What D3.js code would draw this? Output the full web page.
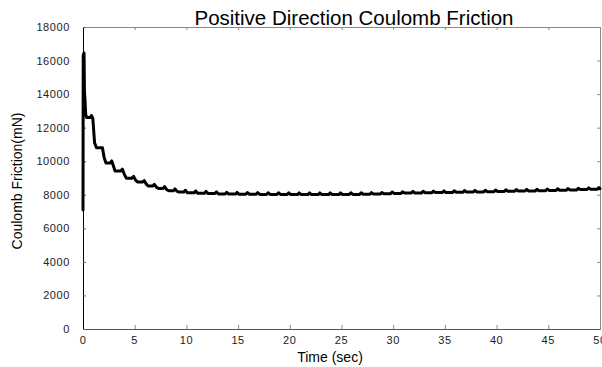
<!DOCTYPE html>
<html>
<head>
<meta charset="utf-8">
<script src="https://cdn.jsdelivr.net/npm/d3@7"></script>
<style>
  html, body { margin: 0; padding: 0; background: #fff; }
  svg { display: block; font-family: "Liberation Sans", Arial, sans-serif; }
</style>
</head>
<body>
<svg id="chart" width="602" height="367"></svg>
<script>
// Chart text
const chartTitle = "Positive Direction Coulomb Friction";
const xLabel = "Time (sec)";
const yLabel = "Coulomb Friction(mN)";

// Axis ticks
const xTicks = [0, 5, 10, 15, 20, 25, 30, 35, 40, 45, 50];
const yTicks = [0, 2000, 4000, 6000, 8000, 10000, 12000, 14000, 16000, 18000];

// Measured friction trace: [time (s), friction (mN)]
const frictionData = [
  [0.00, 7100], [0.02, 16300], [0.10, 16450], [0.14, 14200], [0.18, 13800],
  [0.26, 12800], [0.35, 12600], [0.70, 12600], [0.82, 12720], [0.95, 12550],
  [1.12, 11100], [1.30, 10800], [1.88, 10800], [2.05, 10200], [2.22, 9900],
  [2.65, 9900], [2.78, 10020], [2.95, 9700], [3.10, 9420], [3.65, 9420],
  [3.80, 9530], [3.98, 9250], [4.20, 8980], [4.70, 8980], [4.90, 9100],
  [5.08, 8880], [5.30, 8760], [5.75, 8760], [5.92, 8850], [6.10, 8650],
  [6.30, 8520], [6.75, 8520], [6.90, 8620], [7.10, 8450], [7.30, 8380],
  [7.75, 8380], [7.90, 8490], [8.10, 8300], [8.30, 8240], [8.75, 8240],
  [8.90, 8350], [9.10, 8200], [9.30, 8160], [9.75, 8160], [9.90, 8270],
  [10.10, 8120], [10.75, 8120], [10.90, 8230],
  [11.10, 8090], [11.75, 8090], [11.90, 8200],
  [12.10, 8070], [12.75, 8070], [12.90, 8170],
  [13.10, 8050], [13.75, 8050], [13.90, 8150],
  [14.10, 8040], [14.75, 8040], [14.90, 8140],
  [15.10, 8030], [15.75, 8030], [15.90, 8130],
  [16.10, 8030], [16.75, 8030], [16.90, 8130],
  [17.10, 8020], [17.75, 8020], [17.90, 8120],
  [18.10, 8020], [18.75, 8020], [18.90, 8120],
  [19.10, 8020], [19.75, 8020], [19.90, 8120],
  [20.10, 8010], [20.75, 8010], [20.90, 8110],
  [21.10, 8010], [21.75, 8010], [21.90, 8110],
  [22.10, 8010], [22.75, 8010], [22.90, 8110],
  [23.10, 8010], [23.75, 8010], [23.90, 8110],
  [24.10, 8010], [24.75, 8010], [24.90, 8110],
  [25.10, 8020], [25.75, 8020], [25.90, 8120],
  [26.10, 8020], [26.75, 8020], [26.90, 8120],
  [27.10, 8030], [27.75, 8030], [27.90, 8130],
  [28.10, 8040], [28.75, 8040], [28.90, 8140],
  [29.10, 8060], [29.75, 8060], [29.90, 8160],
  [30.10, 8080], [30.75, 8080], [30.90, 8180],
  [31.10, 8100], [31.75, 8100], [31.90, 8200],
  [32.10, 8110], [32.75, 8110], [32.90, 8210],
  [33.10, 8120], [33.75, 8120], [33.90, 8220],
  [34.10, 8130], [34.75, 8130], [34.90, 8230],
  [35.10, 8140], [35.75, 8140], [35.90, 8240],
  [36.10, 8150], [36.75, 8150], [36.90, 8250],
  [37.10, 8160], [37.75, 8160], [37.90, 8260],
  [38.10, 8170], [38.75, 8170], [38.90, 8270],
  [39.10, 8180], [39.75, 8180], [39.90, 8280],
  [40.10, 8200], [40.75, 8200], [40.90, 8300],
  [41.10, 8210], [41.75, 8210], [41.90, 8310],
  [42.10, 8220], [42.75, 8220], [42.90, 8320],
  [43.10, 8230], [43.75, 8230], [43.90, 8330],
  [44.10, 8240], [44.75, 8240], [44.90, 8340],
  [45.10, 8260], [45.75, 8260], [45.90, 8360],
  [46.10, 8270], [46.75, 8270], [46.90, 8370],
  [47.10, 8290], [47.75, 8290], [47.90, 8390],
  [48.10, 8310], [48.75, 8310], [48.90, 8410],
  [49.10, 8330], [49.75, 8330], [49.90, 8430],
  [50.00, 8360]
];

const svg = d3.select("#chart");
const plot = { left: 83, right: 600, top: 27, bottom: 329 };

const x = d3.scaleLinear().domain([0, 50]).range([plot.left, plot.right]);
const y = d3.scaleLinear().domain([0, 18000]).range([plot.bottom, plot.top]);

// Frame: top and right edges in grey with inward ticks
svg.append("g")
  .attr("transform", `translate(0,${plot.top})`)
  .call(d3.axisBottom(x).tickValues(xTicks).tickSize(3).tickFormat(""))
  .call(g => g.selectAll("path,line").attr("stroke", "#8a8a8a"));

svg.append("g")
  .attr("transform", `translate(${plot.right},0)`)
  .call(d3.axisLeft(y).tickValues(yTicks).tickSize(3).tickFormat(""))
  .call(g => g.selectAll("path,line").attr("stroke", "#8a8a8a"));

// Bottom axis with inward ticks
svg.append("g")
  .attr("transform", `translate(0,${plot.bottom})`)
  .call(d3.axisTop(x).tickValues(xTicks).tickSize(4).tickSizeOuter(0).tickFormat(""))
  .call(g => g.selectAll("path").attr("stroke", "#555"))
  .call(g => g.selectAll("line").attr("stroke", "#888"));

svg.append("g").selectAll("text")
  .data(xTicks)
  .join("text")
  .attr("x", d => x(d))
  .attr("y", 344)
  .attr("text-anchor", "middle")
  .attr("font-size", 11)
  .attr("letter-spacing", 0.6)
  .attr("fill", "#222")
  .text(d => d);

// Left axis with inward ticks
svg.append("g")
  .attr("transform", `translate(${plot.left},0)`)
  .call(d3.axisRight(y).tickValues(yTicks).tickSize(3).tickSizeOuter(0).tickFormat(""))
  .call(g => g.selectAll("path").attr("stroke", "#000"))
  .call(g => g.selectAll("line").attr("stroke", "#666"));

svg.append("g").selectAll("text")
  .data(yTicks)
  .join("text")
  .attr("x", 70)
  .attr("y", d => y(d) + 4)
  .attr("text-anchor", "end")
  .attr("font-size", 11)
  .attr("letter-spacing", 0.6)
  .attr("fill", "#222")
  .text(d => d);

// Friction trace
const line = d3.line()
  .x(d => x(d[0]))
  .y(d => y(d[1]))
  .curve(d3.curveLinear);

svg.append("path")
  .datum(frictionData)
  .attr("fill", "none")
  .attr("stroke", "#000")
  .attr("stroke-width", 3)
  .attr("stroke-linejoin", "round")
  .attr("stroke-linecap", "round")
  .attr("d", line);

// Titles
svg.append("text")
  .attr("x", 354)
  .attr("y", 25)
  .attr("text-anchor", "middle")
  .attr("font-size", 20.5)
  .attr("fill", "#000")
  .text(chartTitle);

svg.append("text")
  .attr("x", 330)
  .attr("y", 362)
  .attr("text-anchor", "middle")
  .attr("font-size", 14)
  .attr("fill", "#000")
  .text(xLabel);

svg.append("text")
  .attr("transform", "translate(22,181) rotate(-90)")
  .attr("text-anchor", "middle")
  .attr("font-size", 14)
  .attr("fill", "#000")
  .text(yLabel);
</script>
</body>
</html>
